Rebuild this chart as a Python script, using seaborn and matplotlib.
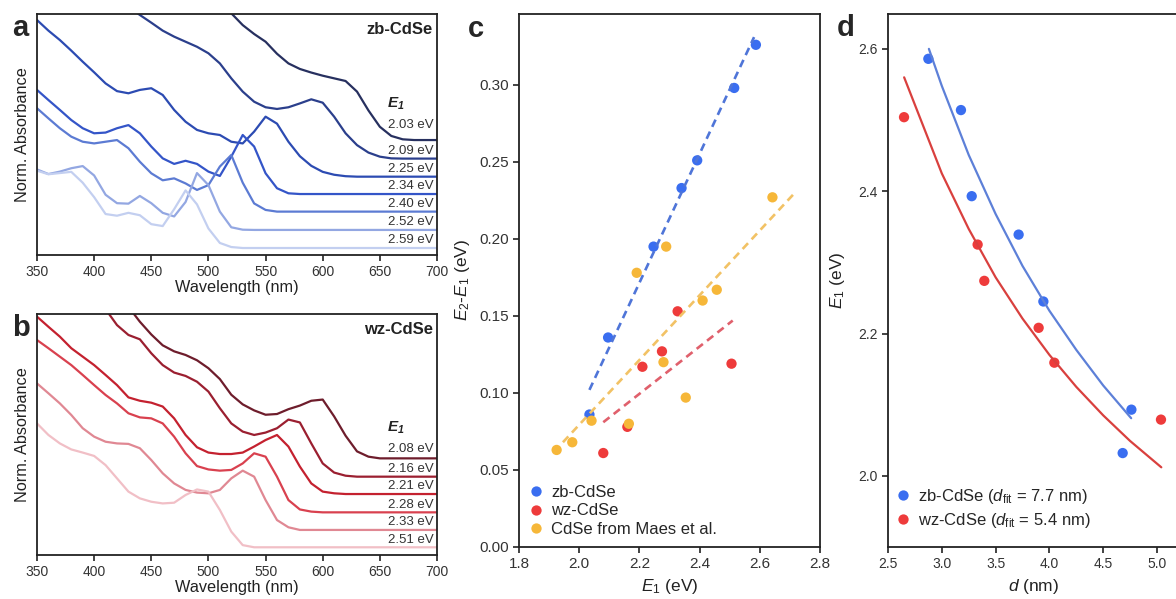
import numpy as np
import pandas as pd
import matplotlib
matplotlib.use("Agg")
import matplotlib.pyplot as plt
import seaborn as sns

N = np.nan
wavelength = [350, 360, 370, 380, 390, 400, 410, 420, 430, 440, 450, 460,
              470, 480, 490, 500, 510, 520, 530, 540, 550, 560, 570, 580,
              590, 600, 610, 620, 630, 640, 650, 660, 670, 680, 690, 700]

# ---- panel a: zb-CdSe normalized absorbance ----
zb_labels = ["2.03 eV", "2.09 eV", "2.25 eV", "2.34 eV", "2.40 eV", "2.52 eV", "2.59 eV"]
zb_203 = [N]*15 + [1.12, 1.06, 1.003, 0.954, 0.917, 0.885, 0.835, 0.795, 0.772, 0.757, 0.744,
                   0.733, 0.722, 0.678, 0.600, 0.532, 0.494, 0.480, 0.477, 0.477, 0.477]
zb_209 = [N]*8 + [1.03, 0.996, 0.964, 0.931, 0.906, 0.885, 0.864, 0.837, 0.795, 0.733, 0.678,
                  0.636, 0.613, 0.606, 0.613, 0.629, 0.646, 0.632, 0.574, 0.505, 0.456, 0.425,
                  0.408, 0.401, 0.400, 0.400, 0.400, 0.400]
zb_225 = [0.975, 0.931, 0.892, 0.848, 0.802, 0.758, 0.712, 0.680, 0.671, 0.685, 0.692, 0.664,
          0.602, 0.553, 0.519, 0.505, 0.498, 0.470, 0.463, 0.512, 0.574, 0.545, 0.470, 0.410,
          0.370, 0.345, 0.333, 0.327, 0.325, 0.325, 0.325, 0.325, 0.325, 0.325, 0.325, 0.325]
zb_234 = [0.685, 0.643, 0.602, 0.560, 0.526, 0.505, 0.508, 0.526, 0.539, 0.505, 0.450, 0.401,
          0.378, 0.391, 0.378, 0.346, 0.328, 0.408, 0.498, 0.450, 0.339, 0.277, 0.256, 0.253,
          0.253, 0.253, 0.253, 0.253, 0.253, 0.253, 0.253, 0.253, 0.253, 0.253, 0.253, 0.253]
zb_240 = [0.609, 0.567, 0.526, 0.491, 0.470, 0.463, 0.470, 0.477, 0.443, 0.387, 0.339, 0.310,
          0.318, 0.297, 0.270, 0.290, 0.367, 0.415, 0.300, 0.214, 0.187, 0.180, 0.180, 0.180,
          0.180, 0.180, 0.180, 0.180, 0.180, 0.180, 0.180, 0.180, 0.180, 0.180, 0.180, 0.180]
zb_252 = [0.355, 0.336, 0.346, 0.360, 0.369, 0.330, 0.250, 0.215, 0.213, 0.245, 0.215, 0.175,
          0.160, 0.220, 0.340, 0.290, 0.180, 0.115, 0.105, 0.104, 0.104, 0.104, 0.104, 0.104,
          0.104, 0.104, 0.104, 0.104, 0.104, 0.104, 0.104, 0.104, 0.104, 0.104, 0.104, 0.104]
zb_259 = [0.350, 0.335, 0.340, 0.345, 0.300, 0.240, 0.170, 0.163, 0.175, 0.165, 0.128, 0.120,
          0.190, 0.268, 0.210, 0.110, 0.050, 0.033, 0.029, 0.029, 0.029, 0.029, 0.029, 0.029,
          0.029, 0.029, 0.029, 0.029, 0.029, 0.029, 0.029, 0.029, 0.029, 0.029, 0.029, 0.029]
zb_colors = ["#27305f", "#2b3f8c", "#2c4bb2", "#3455c8", "#5c7bd3", "#93a7e2", "#c3cff0"]

# ---- panel b: wz-CdSe ----
wz_labels = ["2.08 eV", "2.16 eV", "2.21 eV", "2.28 eV", "2.33 eV", "2.51 eV"]
wz_208 = [N]*8 + [1.03, 0.968, 0.915, 0.870, 0.845, 0.830, 0.808, 0.775, 0.730, 0.665, 0.625,
                  0.600, 0.582, 0.585, 0.605, 0.620, 0.640, 0.645, 0.575, 0.495, 0.430, 0.408,
                  0.401, 0.401, 0.401, 0.401, 0.401, 0.401]
wz_216 = [N]*6 + [1.02, 0.954, 0.913, 0.895, 0.837, 0.788, 0.757, 0.743, 0.719, 0.678, 0.609,
                  0.546, 0.512, 0.498, 0.508, 0.526, 0.562, 0.550, 0.463, 0.380, 0.342, 0.329,
                  0.325, 0.325, 0.325, 0.325, 0.325, 0.325, 0.325, 0.325]
wz_221 = [0.989, 0.947, 0.906, 0.858, 0.823, 0.788, 0.747, 0.705, 0.654, 0.640, 0.632, 0.616,
          0.567, 0.498, 0.447, 0.425, 0.419, 0.419, 0.425, 0.450, 0.477, 0.498, 0.450, 0.367,
          0.297, 0.263, 0.256, 0.253, 0.253, 0.253, 0.253, 0.253, 0.253, 0.253, 0.253, 0.253]
wz_228 = [0.892, 0.858, 0.823, 0.788, 0.747, 0.705, 0.664, 0.629, 0.588, 0.571, 0.567, 0.546,
          0.491, 0.422, 0.369, 0.355, 0.350, 0.353, 0.380, 0.422, 0.408, 0.325, 0.228, 0.189,
          0.180, 0.177, 0.177, 0.177, 0.177, 0.177, 0.177, 0.177, 0.177, 0.177, 0.177, 0.177]
wz_233 = [0.712, 0.671, 0.629, 0.581, 0.526, 0.491, 0.470, 0.463, 0.461, 0.443, 0.394, 0.339,
          0.297, 0.270, 0.259, 0.256, 0.270, 0.318, 0.350, 0.325, 0.228, 0.145, 0.115, 0.104,
          0.104, 0.104, 0.104, 0.104, 0.104, 0.104, 0.104, 0.104, 0.104, 0.104, 0.104, 0.104]
wz_251 = [0.546, 0.498, 0.463, 0.438, 0.425, 0.411, 0.373, 0.318, 0.263, 0.235, 0.221, 0.214,
          0.217, 0.249, 0.272, 0.263, 0.187, 0.097, 0.041, 0.032, 0.032, 0.032, 0.032, 0.032,
          0.032, 0.032, 0.032, 0.032, 0.032, 0.032, 0.032, 0.032, 0.032, 0.032, 0.032, 0.032]
wz_colors = ["#6e1d2c", "#9b1f30", "#c4212f", "#d9414f", "#e08893", "#f1bfc6"]

# ---- panel c: E2-E1 vs E1 ----
zb_E1 = [2.034, 2.096, 2.247, 2.340, 2.392, 2.515, 2.587]
zb_dE = [0.086, 0.136, 0.195, 0.233, 0.251, 0.298, 0.326]
wz_E1 = [2.080, 2.160, 2.210, 2.275, 2.327, 2.506]
wz_dE = [0.061, 0.078, 0.117, 0.127, 0.153, 0.119]
maes_E1 = [1.925, 1.977, 2.041, 2.165, 2.191, 2.280, 2.289, 2.354, 2.410, 2.457, 2.642]
maes_dE = [0.063, 0.068, 0.082, 0.080, 0.178, 0.120, 0.195, 0.097, 0.160, 0.167, 0.227]
zb_fit_E1 = [2.034, 2.581]
zb_fit_dE = [0.102, 0.331]
wz_fit_E1 = [2.080, 2.510]
wz_fit_dE = [0.081, 0.147]
maes_fit_E1 = [1.946, 2.712]
maes_fit_dE = [0.068, 0.229]
c_series = ["zb-CdSe", "wz-CdSe", "CdSe from Maes et al."]

# ---- panel d: E1 vs d ----
zb_d = [2.875, 3.178, 3.278, 3.714, 3.944, 4.762, 4.681]
zb_Ed = [2.586, 2.514, 2.393, 2.339, 2.245, 2.093, 2.032]
wz_d = [2.649, 3.333, 3.395, 3.900, 4.046, 5.037]
wz_Ed = [2.504, 2.325, 2.274, 2.208, 2.159, 2.079]
zb_curve_d = [2.88, 3.0, 3.25, 3.5, 3.75, 4.0, 4.25, 4.5, 4.76]
zb_curve_E = [2.600, 2.548, 2.451, 2.368, 2.295, 2.232, 2.177, 2.127, 2.081]
wz_curve_d = [2.65, 3.0, 3.25, 3.5, 3.75, 4.0, 4.25, 4.5, 4.75, 5.04]
wz_curve_E = [2.560, 2.425, 2.347, 2.279, 2.221, 2.170, 2.125, 2.085, 2.049, 2.012]
d_series = [r"zb-CdSe ($d_\mathrm{fit}$ = 7.7 nm)", r"wz-CdSe ($d_\mathrm{fit}$ = 5.4 nm)"]

# ------------------------------------------------------------------
sns.set_style("ticks")
plt.rcParams["font.family"] = ["Liberation Sans", "DejaVu Sans"]
plt.rcParams["mathtext.fontset"] = "custom"
plt.rcParams["mathtext.rm"] = "Liberation Sans"
plt.rcParams["mathtext.it"] = "Liberation Sans:italic"
plt.rcParams["mathtext.bf"] = "Liberation Sans:italic:bold"
plt.rcParams["axes.edgecolor"] = "#222222"
plt.rcParams["axes.linewidth"] = 1.3
plt.rcParams["xtick.color"] = "#222222"
plt.rcParams["ytick.color"] = "#222222"
plt.rcParams["xtick.labelcolor"] = "#333333"
plt.rcParams["ytick.labelcolor"] = "#333333"
plt.rcParams["xtick.major.size"] = 4
plt.rcParams["ytick.major.size"] = 4
plt.rcParams["xtick.major.width"] = 1.2
plt.rcParams["ytick.major.width"] = 1.2
plt.rcParams["axes.labelcolor"] = "#222222"
plt.rcParams["lines.solid_joinstyle"] = "round"

W, H = 1176, 599
fig = plt.figure(figsize=(W / 100, H / 100), dpi=100)
ax_a = fig.add_axes([37 / W, 1 - 255 / H, 400 / W, 241 / H])
ax_b = fig.add_axes([37 / W, 1 - 555 / H, 400 / W, 241 / H])
ax_c = fig.add_axes([519 / W, 1 - 547 / H, 301 / W, 533 / H])
ax_d = fig.add_axes([888 / W, 1 - 547 / H, 292 / W, 533 / H])


def spectra_panel(ax, series, labels, colors, title, first_offset):
    rows = []
    for lab, vals in zip(labels, series):
        for wl, v in zip(wavelength, vals):
            rows.append((wl, v, lab))
    df = pd.DataFrame(rows, columns=["wl", "v", "E1"])
    sns.lineplot(data=df, x="wl", y="v", hue="E1", palette=dict(zip(labels, colors)),
                 hue_order=labels, legend=False, lw=1.6, ax=ax)
    ax.set_xlim(350, 700)
    ax.set_ylim(0, 1)
    ax.set_yticks([])
    ax.set_xticks([350, 400, 450, 500, 550, 600, 650, 700])
    ax.tick_params(axis="x", labelsize=10, pad=3)
    ax.set_xlabel("Wavelength (nm)", fontsize=11.7, labelpad=1)
    ax.set_ylabel("Norm. Absorbance", fontsize=11.7, labelpad=5)
    for sp in ax.spines.values():
        sp.set_visible(True)
    for i, (lab, vals) in enumerate(zip(labels, series)):
        off = first_offset if i == 0 else 0.032
        ax.text(697, vals[-1] + off, lab, ha="right", va="center", fontsize=9.5, color="#333333")
    ax.text(0.99, 0.935, title, transform=ax.transAxes, ha="right", va="center",
            fontsize=12, fontweight="bold", color="#222222")


spectra_panel(ax_a, [zb_203, zb_209, zb_225, zb_234, zb_240, zb_252, zb_259],
              zb_labels, zb_colors, "zb-CdSe", 0.062)
ax_a.text(656, 0.627, r"$\mathbf{E}_\mathbf{1}$", ha="left", va="center", fontsize=11, color="#222222")
spectra_panel(ax_b, [wz_208, wz_216, wz_221, wz_228, wz_233, wz_251],
              wz_labels, wz_colors, "wz-CdSe", 0.039)
ax_b.text(656, 0.527, r"$\mathbf{E}_\mathbf{1}$", ha="left", va="center", fontsize=11, color="#222222")

# ---- panel c ----
c_pal = {"zb-CdSe": "#3a6ef0", "wz-CdSe": "#ee3b3b", "CdSe from Maes et al.": "#f6b739"}
sns.lineplot(x=zb_fit_E1, y=zb_fit_dE, ax=ax_c, color="#4f75d8", lw=1.9, linestyle=(0, (3, 2)))
sns.lineplot(x=wz_fit_E1, y=wz_fit_dE, ax=ax_c, color="#e0606c", lw=1.9, linestyle=(0, (3, 2)))
sns.lineplot(x=maes_fit_E1, y=maes_fit_dE, ax=ax_c, color="#f2c265", lw=1.9, linestyle=(0, (3, 2)))
dfc = pd.DataFrame({
    "E1": zb_E1 + wz_E1 + maes_E1,
    "dE": zb_dE + wz_dE + maes_dE,
    "series": [c_series[0]] * len(zb_E1) + [c_series[1]] * len(wz_E1) + [c_series[2]] * len(maes_E1),
})
sns.scatterplot(data=dfc, x="E1", y="dE", hue="series", hue_order=c_series, palette=c_pal,
                s=55, edgecolor="none", ax=ax_c)
h, l = ax_c.get_legend_handles_labels()
hl = [(hh, ll) for hh, ll in zip(h, l) if ll in c_series]
ax_c.legend([x[0] for x in hl], [x[1] for x in hl], loc="lower left",
            bbox_to_anchor=(0.008, 0.006), borderaxespad=0, frameon=False,
            fontsize=12, handlelength=1.0, handletextpad=0.4, labelspacing=0.22)
ax_c.set_xlim(1.8, 2.8)
ax_c.set_ylim(0, 0.346)
ax_c.set_xticks([1.8, 2.0, 2.2, 2.4, 2.6, 2.8])
ax_c.set_yticks([0.0, 0.05, 0.10, 0.15, 0.20, 0.25, 0.30])
ax_c.xaxis.set_major_formatter(matplotlib.ticker.FormatStrFormatter("%.1f"))
ax_c.yaxis.set_major_formatter(matplotlib.ticker.FormatStrFormatter("%.2f"))
ax_c.tick_params(labelsize=11)
ax_c.set_xlabel(r"$E_1$ (eV)", fontsize=12.5, labelpad=4)
ax_c.set_ylabel(r"$E_2$-$E_1$ (eV)", fontsize=12.5, labelpad=5)

# ---- panel d ----
d_pal = {d_series[0]: "#3a6ef0", d_series[1]: "#ee3b3b"}
sns.lineplot(x=zb_curve_d, y=zb_curve_E, ax=ax_d, color="#5d80d8", lw=1.6, sort=False)
sns.lineplot(x=wz_curve_d, y=wz_curve_E, ax=ax_d, color="#d9403e", lw=1.6, sort=False)
dfd = pd.DataFrame({
    "d": zb_d + wz_d,
    "E1": zb_Ed + wz_Ed,
    "series": [d_series[0]] * len(zb_d) + [d_series[1]] * len(wz_d),
})
sns.scatterplot(data=dfd, x="d", y="E1", hue="series", hue_order=d_series, palette=d_pal,
                s=55, edgecolor="none", ax=ax_d)
h, l = ax_d.get_legend_handles_labels()
hl = [(hh, ll) for hh, ll in zip(h, l) if ll in d_series]
ax_d.legend([x[0] for x in hl], [x[1] for x in hl], loc="lower left",
            bbox_to_anchor=(0.0, 0.02), borderaxespad=0, frameon=False,
            fontsize=12, handlelength=1.0, handletextpad=0.4, labelspacing=0.3)
ax_d.set_xlim(2.5, 2.5 + 292 / 107.6)
ax_d.set_ylim(1.90, 2.649)
ax_d.set_xticks([2.5, 3.0, 3.5, 4.0, 4.5, 5.0])
ax_d.set_yticks([2.0, 2.2, 2.4, 2.6])
ax_d.xaxis.set_major_formatter(matplotlib.ticker.FormatStrFormatter("%.1f"))
ax_d.yaxis.set_major_formatter(matplotlib.ticker.FormatStrFormatter("%.1f"))
ax_d.tick_params(labelsize=10)
ax_d.set_xlabel(r"$d$ (nm)", fontsize=12.5, labelpad=4)
ax_d.set_ylabel(r"$E_1$ (eV)", fontsize=12.5, labelpad=8)

for ax in (ax_c, ax_d):
    for sp in ax.spines.values():
        sp.set_visible(True)

# panel letters
fig.text(12 / W, 1 - 28 / H, "a", fontsize=21, fontweight="bold", va="center", ha="left")
fig.text(12 / W, 1 - 328 / H, "b", fontsize=21, fontweight="bold", va="center", ha="left")
fig.text(468 / W, 1 - 29 / H, "c", fontsize=21, fontweight="bold", va="center", ha="left")
fig.text(837 / W, 1 - 28 / H, "d", fontsize=21, fontweight="bold", va="center", ha="left")

fig.savefig("out.png", dpi=100)
